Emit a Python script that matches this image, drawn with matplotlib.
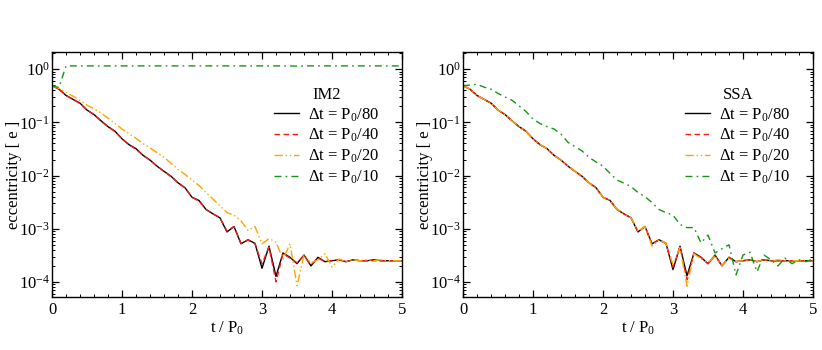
import numpy as np
import matplotlib
matplotlib.use("Agg")
import matplotlib.pyplot as plt
from matplotlib.ticker import MultipleLocator, LogLocator, NullFormatter

plt.rcParams['font.family'] = ['Liberation Serif', 'DejaVu Serif']
plt.rcParams['mathtext.fontset'] = 'custom'
plt.rcParams['mathtext.rm'] = 'Liberation Serif'
plt.rcParams['mathtext.it'] = 'Liberation Serif:italic'
plt.rcParams['mathtext.bf'] = 'Liberation Serif:bold'

t = [0.0, 0.1, 0.2, 0.3, 0.4, 0.5, 0.6, 0.7, 0.8, 0.9,
     1.0, 1.1, 1.2, 1.3, 1.4, 1.5, 1.6, 1.7, 1.8, 1.9,
     2.0, 2.1, 2.2, 2.3, 2.4, 2.5, 2.6, 2.7, 2.8, 2.9,
     3.0, 3.1, 3.2, 3.3, 3.4, 3.5, 3.6, 3.7, 3.8, 3.9,
     4.0, 4.1, 4.2, 4.3, 4.4, 4.5, 4.6, 4.7, 4.8, 4.9, 5.0]

labels = [r"$\Delta$t = P$_0$/80", r"$\Delta$t = P$_0$/40",
          r"$\Delta$t = P$_0$/20", r"$\Delta$t = P$_0$/10"]

# IM2 panel
im2_dt80 = [0.49, 0.42, 0.32, 0.27, 0.23, 0.17, 0.14, 0.107, 0.083, 0.068,
            0.049, 0.038, 0.032, 0.024, 0.0195, 0.015, 0.012, 0.0097, 0.0073, 0.0059,
            0.0039, 0.0034, 0.0023, 0.0019, 0.0016, 0.00087, 0.0011, 0.00052, 0.00062, 0.00053,
            0.00018, 0.00047, 0.000127, 0.00035, 0.00029, 0.00022, 0.00032, 0.00020, 0.00029, 0.00024,
            0.00025, 0.00026, 0.00024, 0.00026, 0.00025, 0.00025, 0.00026, 0.00025, 0.00025, 0.00025, 0.00025]
im2_dt40 = [0.49, 0.42, 0.32, 0.27, 0.225, 0.17, 0.14, 0.105, 0.083, 0.067,
            0.049, 0.038, 0.031, 0.024, 0.0195, 0.015, 0.012, 0.0095, 0.0073, 0.0058,
            0.0039, 0.0033, 0.0023, 0.0019, 0.0016, 0.0009, 0.0011, 0.00053, 0.00061, 0.00052,
            0.00022, 0.00045, 0.0001, 0.00034, 0.00028, 0.00023, 0.00031, 0.00021, 0.00028, 0.00024,
            0.00025, 0.00026, 0.00024, 0.00026, 0.00025, 0.00025, 0.00025, 0.00025, 0.00025, 0.00025, 0.00025]
im2_dt20 = [0.49, 0.43, 0.37, 0.31, 0.26, 0.21, 0.18, 0.15, 0.12, 0.095,
            0.075, 0.061, 0.05, 0.04, 0.033, 0.027, 0.022, 0.017, 0.013, 0.0105,
            0.0082, 0.0065, 0.0048, 0.0036, 0.0027, 0.002, 0.0018, 0.0014, 0.00093, 0.0011,
            0.00052, 0.00065, 0.00056, 0.00027, 0.00052, 0.000085, 0.00032, 0.00023, 0.00026, 0.00034,
            0.00019, 0.00027, 0.00024, 0.00026, 0.00025, 0.00026, 0.00025, 0.00026, 0.00025, 0.00025, 0.00025]
im2_dt10 = [0.49, 0.45, 1.15, 1.15, 1.15, 1.15, 1.15, 1.15, 1.15, 1.15,
            1.15, 1.15, 1.15, 1.15, 1.15, 1.15, 1.15, 1.15, 1.15, 1.15,
            1.15, 1.15, 1.15, 1.15, 1.15, 1.15, 1.15, 1.15, 1.15, 1.15,
            1.15, 1.15, 1.15, 1.15, 1.15, 1.14, 1.15, 1.15, 1.15, 1.15,
            1.15, 1.15, 1.15, 1.15, 1.15, 1.15, 1.15, 1.15, 1.15, 1.15, 1.15]

# SSA panel
ssa_dt80 = [0.49, 0.42, 0.32, 0.27, 0.23, 0.17, 0.14, 0.107, 0.083, 0.068,
            0.049, 0.038, 0.032, 0.024, 0.0195, 0.015, 0.012, 0.0097, 0.0073, 0.0059,
            0.0039, 0.0034, 0.0023, 0.0019, 0.0016, 0.00087, 0.0011, 0.00052, 0.00062, 0.00053,
            0.00017, 0.00047, 0.00013, 0.00035, 0.00029, 0.00022, 0.00032, 0.00020, 0.00029, 0.00024,
            0.00025, 0.00026, 0.00024, 0.00026, 0.00025, 0.00025, 0.00025, 0.00025, 0.00025, 0.00025, 0.00025]
ssa_dt40 = [0.49, 0.42, 0.32, 0.27, 0.23, 0.17, 0.14, 0.106, 0.083, 0.068,
            0.049, 0.038, 0.032, 0.024, 0.0195, 0.015, 0.012, 0.0096, 0.0073, 0.0059,
            0.0039, 0.0034, 0.0023, 0.0019, 0.0016, 0.00088, 0.0011, 0.00051, 0.00062, 0.00053,
            0.00019, 0.00046, 0.00011, 0.00035, 0.00029, 0.00022, 0.00031, 0.00020, 0.00029, 0.00024,
            0.00025, 0.00026, 0.00024, 0.00026, 0.00025, 0.00025, 0.00025, 0.00025, 0.00025, 0.00025, 0.00025]
ssa_dt20 = [0.49, 0.42, 0.32, 0.27, 0.23, 0.17, 0.14, 0.107, 0.083, 0.068,
            0.049, 0.038, 0.032, 0.024, 0.0195, 0.015, 0.012, 0.0097, 0.0073, 0.0059,
            0.0039, 0.0034, 0.0023, 0.0019, 0.0016, 0.0009, 0.0011, 0.00047, 0.00062, 0.00053,
            0.00021, 0.00044, 0.000083, 0.00034, 0.00027, 0.00023, 0.00031, 0.00020, 0.00028, 0.00024,
            0.00025, 0.00026, 0.00024, 0.00026, 0.00025, 0.00026, 0.00025, 0.00025, 0.00025, 0.00025, 0.00025]
ssa_dt10 = [0.49, 0.5, 0.52, 0.46, 0.42, 0.35, 0.30, 0.26, 0.205, 0.16,
            0.115, 0.095, 0.083, 0.075, 0.06, 0.042, 0.035, 0.029, 0.022, 0.018,
            0.015, 0.011, 0.0082, 0.0072, 0.0062, 0.0048, 0.0040, 0.0031, 0.0023, 0.0020,
            0.0018, 0.0012, 0.00105, 0.00105, 0.00054, 0.00076, 0.00035, 0.00042, 0.0005, 0.000135,
            0.00032, 0.00036, 0.000155, 0.00032, 0.00026, 0.0002, 0.00028, 0.00022, 0.00026, 0.00024, 0.00027]

colors = ['black', '#ff1a1a', '#ffa500', '#149614']
styles = ['-', (0, (4, 2.5)), (0, (6, 2, 1, 2, 1, 2)), (0, (5, 3, 1.2, 3))]

fig = plt.figure(figsize=(8.22, 3.5), dpi=100)
ax1 = fig.add_axes([52/822, 1-297/350, 350/822, 245/350])
ax2 = fig.add_axes([463/822, 1-297/350, 350/822, 245/350])

for ax, series, title in [(ax1, [im2_dt80, im2_dt40, im2_dt20, im2_dt10], "IM2"),
                          (ax2, [ssa_dt80, ssa_dt40, ssa_dt20, ssa_dt10], "SSA")]:
    lines = []
    for i in range(4):
        ln, = ax.plot(t, series[i], color=colors[i], linestyle=styles[i], lw=1.0,
                      label=labels[i])
        lines.append(ln)
    ax.set_yscale('log')
    ax.set_xlim(0, 5)
    ax.set_ylim(5.2e-5, 2.1)
    ax.xaxis.set_major_locator(MultipleLocator(1))
    ax.xaxis.set_minor_locator(MultipleLocator(0.2))
    ax.yaxis.set_major_locator(LogLocator(base=10, numticks=10))
    ax.yaxis.set_minor_locator(LogLocator(base=10, subs=np.arange(2, 10), numticks=20))
    ax.yaxis.set_minor_formatter(NullFormatter())
    ax.tick_params(which='both', direction='in', top=True, right=True, labelsize=12)
    ax.tick_params(axis='y', which='major', pad=1.5)
    ax.tick_params(which='major', length=5, width=0.9)
    ax.tick_params(which='minor', length=2.5, width=0.7)
    for s in ax.spines.values():
        s.set_linewidth(1.0)
    ax.set_xlabel(r"t / P$_0$", fontsize=12, labelpad=1)
    ax.set_ylabel("eccentricity [ e ]", fontsize=12)
    ax.yaxis.set_label_coords(-0.085, 0.5)
    ax.legend(lines, labels, title=title, frameon=False,
              loc='upper right', bbox_to_anchor=(0.955, 0.885), fontsize=12,
              title_fontsize=12, handlelength=1.5, handletextpad=0.55,
              labelspacing=0.2, borderaxespad=0)

fig.savefig("out.png", dpi=100)
